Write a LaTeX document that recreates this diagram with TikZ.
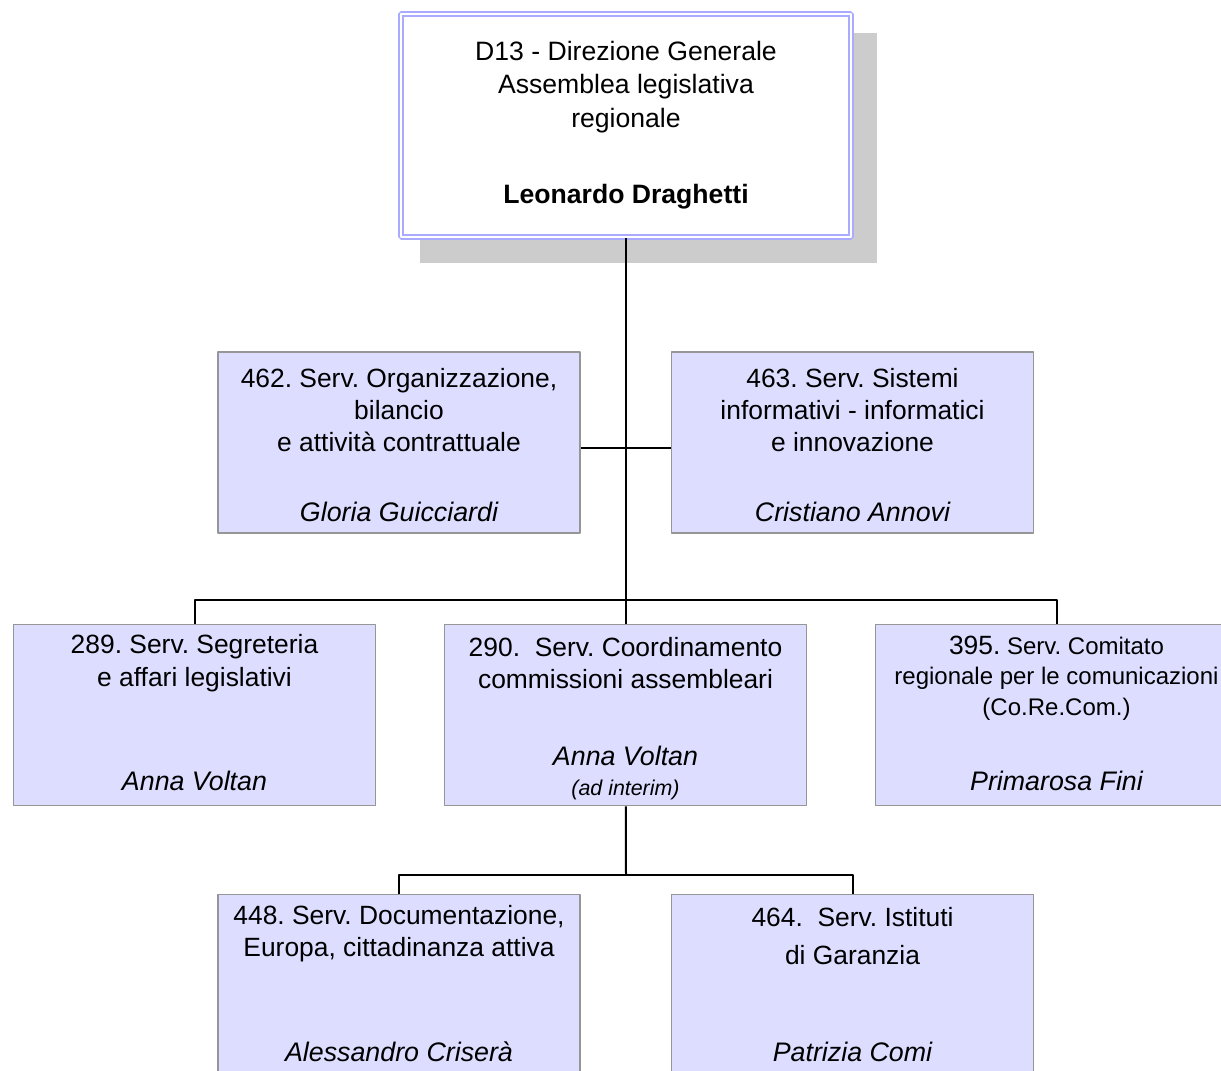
\documentclass[tikz,border=0pt]{standalone}
\usepackage{fontspec}
\setmainfont{Liberation Sans}
\frenchspacing
\usetikzlibrary{calc}
\definecolor{boxfill}{RGB}{221,221,255}
\definecolor{boxline}{RGB}{150,150,150}
\definecolor{topline}{RGB}{170,170,255}
\definecolor{shadowgray}{RGB}{204,204,204}
\tikzset{
  unit/.style={draw=boxline,fill=boxfill,line width=0.75pt,rectangle,minimum width=181pt,minimum height=90.5pt,inner sep=0pt},
  txt/.style={align=center,inner sep=0pt,font=\fontsize{13.2}{16.2}\selectfont},
  who/.style={inner sep=0pt,font=\fontsize{13.4}{15}\selectfont\itshape},
  link/.style={draw=black,line width=1pt},
}
\begin{document}
\begin{tikzpicture}[x=0.5pt,y=-0.5pt,line join=bevel,]
    %%
    \useasboundingbox (0,0) rectangle (1221,1071);
    \fill [shadowgray] (420,33) rectangle (877,263);
    \node (dg) at (625.5,125.5) [draw=topline,line width=1pt,double=white,double distance=1pt,fill=white,rectangle,minimum width=225pt,minimum height=111.5pt,inner sep=0pt] {};
    \node (tdg) at (626,87) [txt,font=\fontsize{13.3}{16.75}\selectfont] {D13 - Direzione Generale\\Assemblea legislativa\\regionale};
    \node (ndg) at (626,197) [inner sep=0pt,font=\fontsize{13.3}{15}\selectfont\bfseries] {Leonardo Draghetti};
    %%
    \node (b462) at (399,442.5) [unit] {};
    \node (t462) at (399,410) [txt] {462. Serv. Organizzazione,\\bilancio\\e attività contrattuale};
    \node (n462) at (399,512) [who] {Gloria Guicciardi};
    \node (b463) at (852.5,442.5) [unit] {};
    \node (t463) at (852.5,410) [txt] {463. Serv. Sistemi\\informativi - informatici\\e innovazione};
    \node (n463) at (852.5,512) [who] {Cristiano Annovi};
    %%
    \node (b289) at (194.5,715) [unit] {};
    \node (t289) at (194.5,663) [txt] {289. Serv. Segreteria\\e affari legislativi};
    \node (n289) at (194.5,781) [who] {Anna Voltan};
    \node (b290) at (625.5,715) [unit] {};
    \node (t290) at (625.5,663) [txt] {290.\ \ Serv. Coordinamento\\commissioni assembleari};
    \node (n290) at (625.5,756) [who] {Anna Voltan};
    \node (i290) at (625.5,790) [inner sep=0pt,font=\fontsize{10.7}{12}\selectfont\itshape] {(ad interim)};
    \node (b395) at (1056.5,715) [unit] {};
    \node (t395) at (1056.5,678) [txt,font=\fontsize{12}{15.3}\selectfont] {{\fontsize{13.2}{15.3}\selectfont 395.} Serv. Comitato\\regionale per le comunicazioni\\(Co.Re.Com.)};
    \node (n395) at (1056.5,781) [who] {Primarosa Fini};
    %%
    \node (b448) at (399,985) [unit] {};
    \node (t448) at (399,933.5) [txt] {448. Serv. Documentazione,\\Europa, cittadinanza attiva};
    \node (n448) at (399,1052) [who] {Alessandro Criserà};
    \node (b464) at (852.5,985) [unit] {};
    \node (t464) at (852.5,936) [txt,font=\fontsize{13.2}{19}\selectfont] {464.\ \ Serv. Istituti\\di Garanzia};
    \node (n464) at (852.5,1052) [who] {Patrizia Comi};
    %%
    \coordinate (staff) at (626,448);
    \coordinate (bus1) at (626,600);
    \coordinate (bus2) at (626,875);
    \draw [link] (dg) -- (b290);
    \draw [link] (b462.east |- staff) -- (b463.west |- staff);
    \draw [link] (b289.north) |- (bus1) -| (b395.north);
    \draw [link] (b290) -- (bus2);
    \draw [link] (b448.north) |- (bus2) -| (b464.north);
    %
\end{tikzpicture}
\end{document}
